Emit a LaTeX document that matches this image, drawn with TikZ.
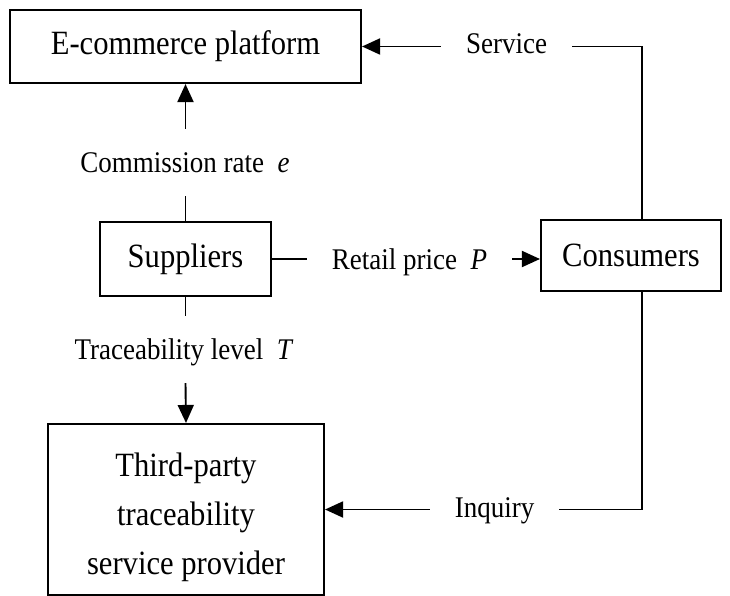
\documentclass[tikz,border=0pt]{standalone}
\usepackage{fontspec}
\setmainfont{Liberation Serif}
\newfontfamily\boxfont[FakeStretch=0.9]{Liberation Serif}
\usepackage{xcolor}
\usetikzlibrary{arrows.meta,calc}
\usetikzlibrary{positioning}

\tikzset{
  box/.style={draw, line width=2.1pt, inner sep=0pt, minimum height=73pt,
    font=\boxfont\fontsize{34}{49}\selectfont},
  hlbl/.style={inner xsep=25pt, inner ysep=0pt, font=\boxfont\fontsize{30}{32}\selectfont},
  vlbl/.style={inner xsep=0pt, inner ysep=24pt, text height=19pt, text depth=0pt,
    font=\boxfont\fontsize{30}{32}\selectfont},
  link/.style={line width=1.9pt},
  arr/.style={link, -{Triangle[length=18pt,width=16pt]}}
}

\begin{document}
\begin{tikzpicture}[x=1pt,y=-1pt]
    \useasboundingbox (0,0) rectangle (730,596);

    % Boxes
    \node[box, minimum width=351pt] (platform) at (185.5,46.5) {E-commerce platform};
    \node[box, minimum width=171pt, minimum height=74pt] (suppliers) at (185.5,259) {Suppliers};
    \node[box, minimum width=180pt, minimum height=71pt] (consumers) at (631,255.5) {Consumers};
    \node[box, minimum width=276pt, minimum height=171pt, align=center] (provider) at (186,509.5)
        {\rule{0pt}{40pt}Third-party\\traceability\\service provider};

    % Labels
    \node[vlbl, anchor=base] (rate) at (185,172) {Commission rate\ \ \textit{e}};
    \node[vlbl, anchor=base] (level) at (184,359) {Traceability level\ \ \textit{T}};
    \node[hlbl, anchor=base] (price) at (409.5,269) {Retail price\ \ \textit{P}};
    \node[hlbl, anchor=base] (service) at (506.5,54) {Service};
    \node[hlbl, anchor=base] (inquiry) at (494.5,517) {Inquiry};

    % Suppliers -> platform
    \draw[link] (suppliers.north) -- (suppliers.north |- rate.south);
    \draw[arr] (suppliers.north |- rate.north) -- (platform.south);

    % Suppliers -> consumers
    \draw[link] (suppliers.east) -- (price.west |- suppliers.east);
    \draw[arr] (price.east |- suppliers.east) -- (consumers.west |- suppliers.east);

    % Suppliers -> provider
    \draw[link] (suppliers.south) -- (suppliers.south |- level.north);
    \draw[arr] (suppliers.south |- level.south) -- (provider.north);

    % Consumers -> platform
    \draw[link] ([xshift=11pt]consumers.north) |- (service.east |- platform.east);
    \draw[arr] (service.west |- platform.east) -- (platform.east);

    % Consumers -> provider
    \draw[link] ([xshift=11pt]consumers.south) |- (inquiry.east |- provider.east);
    \draw[arr] (inquiry.west |- provider.east) -- (provider.east);
\end{tikzpicture}
\end{document}
